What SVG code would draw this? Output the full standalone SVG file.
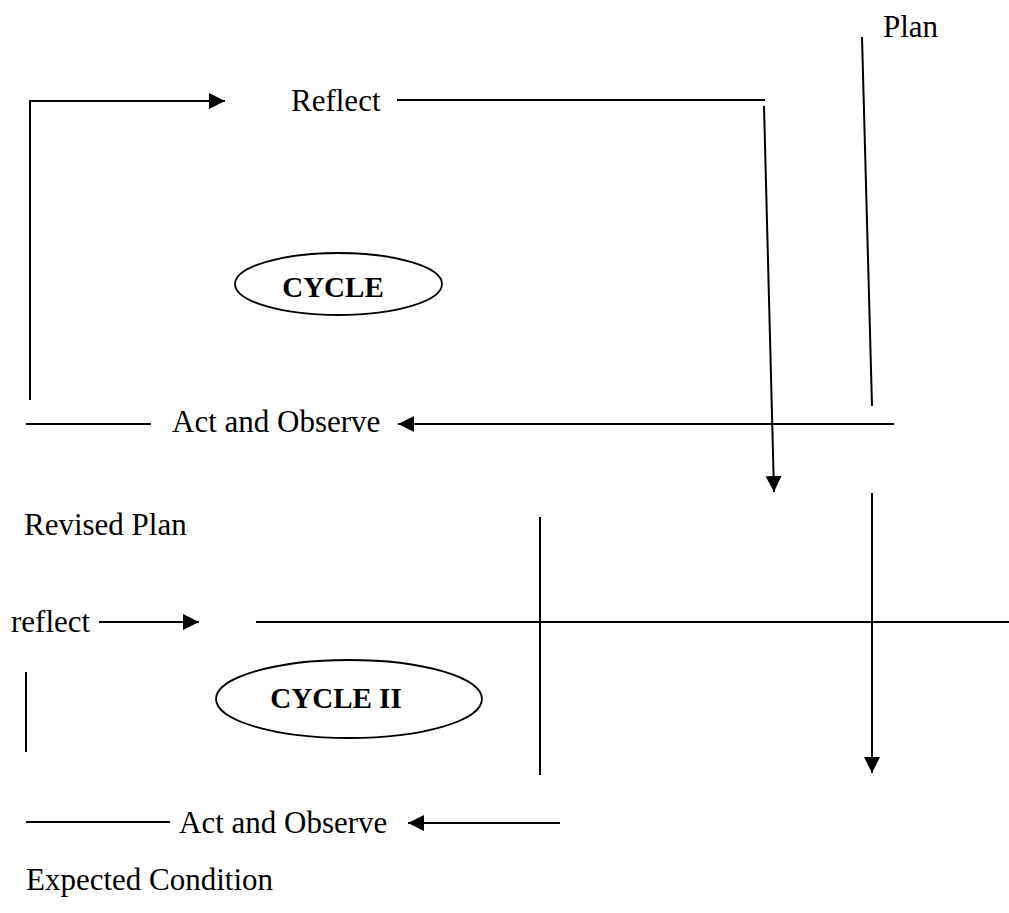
<svg xmlns="http://www.w3.org/2000/svg" width="1009" height="913" viewBox="0 0 1009 913">
<style>
.t{font-family:"Liberation Serif","Times New Roman",serif;font-size:31px;fill:#000}
.b{font-family:"Liberation Serif","Times New Roman",serif;font-size:29px;font-weight:bold;fill:#000}
.c line,.c polyline{stroke:#000;stroke-width:2;fill:none}
.e{fill:#fff;stroke:#000;stroke-width:1.8}
</style>
<defs>
<marker id="ah" markerUnits="userSpaceOnUse" markerWidth="17" markerHeight="17" refX="16" refY="8" orient="auto" viewBox="0 0 17 17">
<path d="M0,0 L16,8 L0,16 z" fill="#000"/>
</marker>
</defs>
<rect width="1009" height="913" fill="#fff"/>
<g id="connectors" class="c">
<polyline points="30,400 30,101 225,101" marker-end="url(#ah)"/>
<line x1="397" y1="100" x2="765" y2="100"/>
<line x1="764" y1="106" x2="774" y2="492" marker-end="url(#ah)"/>
<line x1="862" y1="37" x2="872" y2="406"/>
<line x1="894" y1="424" x2="398" y2="424" marker-end="url(#ah)"/>
<line x1="26" y1="424" x2="151" y2="424"/>
<line x1="872" y1="493" x2="872" y2="773" marker-end="url(#ah)"/>
<line x1="256" y1="622" x2="1009" y2="622"/>
<line x1="540" y1="517" x2="540" y2="775"/>
<line x1="99" y1="622" x2="199" y2="622" marker-end="url(#ah)"/>
<line x1="26" y1="672" x2="26" y2="752"/>
<line x1="26" y1="822" x2="170" y2="822"/>
<line x1="560" y1="823" x2="408" y2="823" marker-end="url(#ah)"/>
</g>
<g id="plan"><text class="t" x="883" y="37">Plan</text></g>
<g id="reflect1"><text class="t" x="291" y="111">Reflect</text></g>
<g id="cycle1">
<ellipse class="e" cx="338.5" cy="284" rx="103.5" ry="31"/>
<text class="b" x="333" y="297" text-anchor="middle">CYCLE</text>
</g>
<g id="act1"><text class="t" x="172" y="432">Act and Observe</text></g>
<g id="revised"><text class="t" x="24" y="535">Revised Plan</text></g>
<g id="reflect2"><text class="t" x="11" y="632">reflect</text></g>
<g id="cycle2">
<ellipse class="e" cx="349" cy="699" rx="133" ry="39"/>
<text class="b" x="336" y="708" text-anchor="middle">CYCLE II</text>
</g>
<g id="act2"><text class="t" x="179" y="833">Act and Observe</text></g>
<g id="expected"><text class="t" x="26" y="890">Expected Condition</text></g>
</svg>
